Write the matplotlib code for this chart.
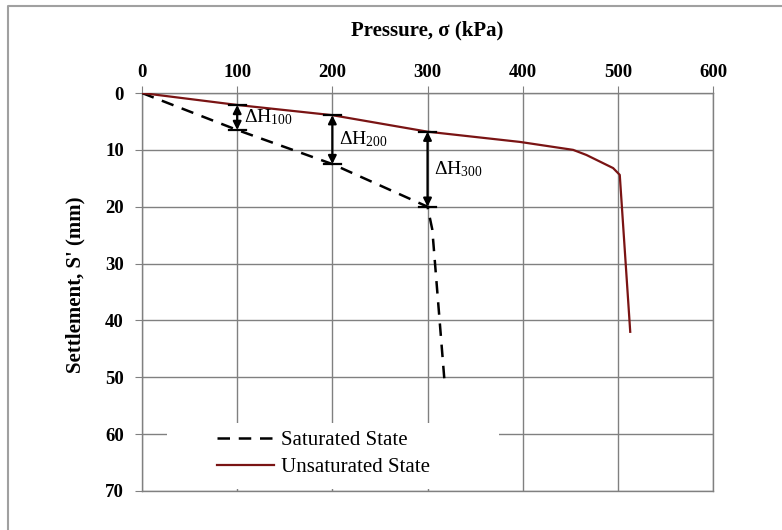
import numpy as np
import matplotlib
matplotlib.use("Agg")
import matplotlib.pyplot as plt
from matplotlib.lines import Line2D
from matplotlib.patches import Rectangle

plt.rcParams['font.family'] = ['Liberation Serif', 'DejaVu Serif']
plt.rcParams['mathtext.fontset'] = 'custom'
plt.rcParams['mathtext.rm'] = 'Liberation Serif'
plt.rcParams['mathtext.it'] = 'Liberation Serif:italic'

# data
sat_pressure = [0, 100, 200, 300, 305, 318]
sat_settle = [0, 6.5, 12.5, 20, 24, 51]

unsat_pressure = [0, 100, 200, 300, 397, 453, 467, 495, 502, 513]
unsat_settle = [0, 2.1, 3.9, 6.8, 8.6, 10.0, 10.9, 13.2, 14.4, 42.0]

dh_pressure = [100, 200, 300]
dh_top = [2.1, 3.9, 6.8]
dh_bottom = [6.5, 12.5, 20.0]
dh_labels = ['100', '200', '300']

GRID = '#808080'

fig = plt.figure(figsize=(7.82, 5.30), dpi=100)
ax = fig.add_axes([0.1816, 0.0736, 0.7302, 0.7509])

# outer frame (only left and top edges visible)
fig.add_artist(Line2D([8 / 782, 8 / 782, 1.0], [0, 1 - 6 / 530, 1 - 6 / 530],
                      transform=fig.transFigure, color='#a0a0a0', lw=1.5))

ax.plot(sat_pressure, sat_settle, color='black', lw=1.8, ls=(0, (5, 3.5)),
        label='Saturated State', zorder=3)
ax.plot(unsat_pressure, unsat_settle, color='#7a1414', lw=1.6,
        label='Unsaturated State', zorder=3)

for p, t, b, lab in zip(dh_pressure, dh_top, dh_bottom, dh_labels):
    ax.annotate('', xy=(p, t), xytext=(p, b),
                arrowprops=dict(arrowstyle='<|-|>', color='black', lw=1.6,
                                mutation_scale=12, shrinkA=0, shrinkB=0), zorder=4)
    ax.plot([p - 9, p + 9], [t, t], color='black', lw=1.6, zorder=4)
    ax.plot([p - 9, p + 9], [b, b], color='black', lw=1.6, zorder=4)
    ax.text(p + 7, (t + b) / 2, r'$\Delta$H$_{%s}$' % lab, fontsize=14,
            va='center', ha='left', zorder=5)

ax.set_xlim(0, 600)
ax.set_ylim(70, 0)
ax.xaxis.tick_top()
ax.set_xticks(range(0, 601, 100))
ax.set_yticks(range(0, 71, 10))
ax.grid(True, color=GRID, lw=1.0)
ax.set_axisbelow(True)
for s in ax.spines.values():
    s.set_color(GRID)
    s.set_linewidth(1.0)
ax.tick_params(axis='both', direction='out', length=5, color=GRID,
               labelsize=13.5, pad=4)
ax.tick_params(axis='y', pad=8)
for lbl in ax.get_xticklabels() + ax.get_yticklabels():
    lbl.set_fontweight('bold')

fig.text(427 / 782, 1 - 30 / 530, 'Pressure, σ (kPa)', fontsize=15,
         fontweight='bold', ha='center', va='center')
fig.text(75 / 782, 1 - 285 / 530, 'Settlement, S\' (mm)', fontsize=15,
         fontweight='bold', ha='center', va='center', rotation=90)

# white box behind the legend, hiding the grid
ax.add_patch(Rectangle((26, 58.0), 349, 11.6, facecolor='white',
                       edgecolor='none', zorder=1))
leg = ax.legend(loc='center left', bbox_to_anchor=(79, 63.5),
                bbox_transform=ax.transData, frameon=False,
                fontsize=15, handlelength=2.75, handletextpad=0.3,
                labelspacing=0.35, borderpad=0, borderaxespad=0)

fig.savefig('out.png', dpi=100)
